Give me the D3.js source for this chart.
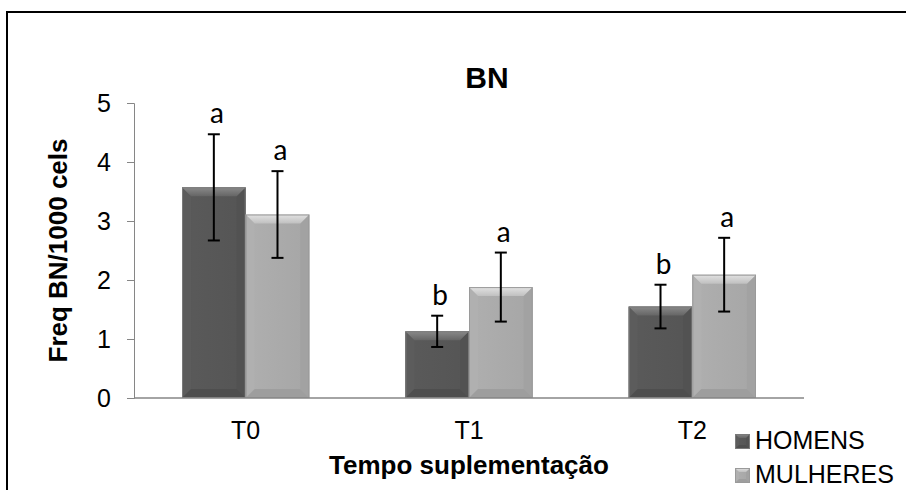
<!DOCTYPE html>
<html>
<head>
<meta charset="utf-8">
<script src="https://cdn.jsdelivr.net/npm/d3@7"></script>
<style>
  body { margin: 0; background: #fff; }
  svg { display: block; }
</style>
</head>
<body>
<div id="chart"></div>
<script>
// dados
const categories = ["T0", "T1", "T2"];
const series = ["HOMENS", "MULHERES"];
const homens = [3.57, 1.13, 1.55];
const homensErr = [0.90, 0.265, 0.37];
const homensLetters = ["a", "b", "b"];
const mulheres = [3.11, 1.88, 2.09];
const mulheresErr = [0.735, 0.585, 0.625];
const mulheresLetters = ["a", "a", "a"];
const yTicks = [0, 1, 2, 3, 4, 5];

const width = 906, height = 490;
const margin = { left: 134, right: 102, top: 103, bottom: 92 };

const svg = d3.select("#chart").append("svg")
  .attr("width", width)
  .attr("height", height);

// moldura
svg.append("rect")
  .attr("x", 7).attr("y", 12)
  .attr("width", 920).attr("height", 500)
  .attr("fill", "none")
  .attr("stroke", "#000")
  .attr("stroke-width", 2);

const x0 = d3.scaleBand()
  .domain(categories)
  .range([margin.left, width - margin.right])
  .paddingInner(0.43)
  .paddingOuter(0.215);

const x1 = d3.scaleBand()
  .domain(series)
  .range([0, x0.bandwidth()]);

const y = d3.scaleLinear()
  .domain([0, 5])
  .range([height - margin.bottom, margin.top]);

// estilos de cada série (face, topo, lados, base)
const styles = {
  HOMENS: { face: "#575757", top1: "#8a8a8a", top2: "#656565", left: "#5c5c5c", right: "#525252", bottom: "#4e4e4e", stroke: "#7a7a7a" },
  MULHERES: { face: "#a9a9a9", top1: "#e2e2e2", top2: "#c0c0c0", left: "#b0b0b0", right: "#a2a2a2", bottom: "#9e9e9e", stroke: "#9a9a9a" }
};

const defs = svg.append("defs");
series.forEach(s => {
  const g = defs.append("linearGradient")
    .attr("id", "top-" + s)
    .attr("x1", 0).attr("y1", 0).attr("x2", 0).attr("y2", 1);
  g.append("stop").attr("offset", "0%").attr("stop-color", styles[s].top1);
  g.append("stop").attr("offset", "100%").attr("stop-color", styles[s].top2);
  const f = defs.append("linearGradient")
    .attr("id", "face-" + s)
    .attr("x1", 0).attr("y1", 0).attr("x2", 1).attr("y2", 0);
  f.append("stop").attr("offset", "0%").attr("stop-color", d3.color(styles[s].face).brighter(0.1));
  f.append("stop").attr("offset", "100%").attr("stop-color", d3.color(styles[s].face).darker(0.05));
});

// desenha uma barra com efeito de bisel
function bevelBar(g, x, yTop, w, h, s, b) {
  const st = styles[s];
  const yB = yTop + h;
  g.append("rect")
    .attr("x", x).attr("y", yTop).attr("width", w).attr("height", h)
    .attr("fill", "url(#face-" + s + ")");
  const poly = (pts, fill) => g.append("polygon")
    .attr("points", pts.map(p => p.join(",")).join(" "))
    .attr("fill", fill);
  poly([[x, yTop], [x + b, yTop + b], [x + b, yB - b], [x, yB]], st.left);
  poly([[x + w, yTop], [x + w - b, yTop + b], [x + w - b, yB - b], [x + w, yB]], st.right);
  poly([[x, yB], [x + b, yB - b], [x + w - b, yB - b], [x + w, yB]], st.bottom);
  poly([[x, yTop], [x + w, yTop], [x + w - b, yTop + b], [x + b, yTop + b]], "url(#top-" + s + ")");
  g.append("rect")
    .attr("x", x + 0.5).attr("y", yTop + 0.5).attr("width", w - 1).attr("height", h - 1)
    .attr("fill", "none")
    .attr("stroke", st.stroke)
    .attr("stroke-width", 1);
}

const rows = [];
categories.forEach((c, i) => {
  rows.push({ cat: c, s: "HOMENS", v: homens[i], e: homensErr[i], l: homensLetters[i] });
  rows.push({ cat: c, s: "MULHERES", v: mulheres[i], e: mulheresErr[i], l: mulheresLetters[i] });
});

const barsG = svg.append("g");
rows.forEach(d => {
  const bx = x0(d.cat) + x1(d.s);
  bevelBar(barsG, bx, y(d.v), x1.bandwidth(), y(0) - y(d.v), d.s, 9);
});

// eixos
const yAxis = svg.append("g")
  .attr("transform", `translate(${margin.left},0)`)
  .call(d3.axisLeft(y).tickValues(yTicks).tickFormat(d3.format("d")).tickSize(7).tickPadding(16));
yAxis.select(".domain").attr("stroke", "#868686");
yAxis.selectAll(".tick line").attr("stroke", "#868686");
yAxis.selectAll("text")
  .attr("font-family", "Liberation Sans, Arial, sans-serif")
  .attr("font-size", 25)
  .attr("fill", "#000");

svg.append("line")
  .attr("x1", margin.left).attr("x2", width - margin.right)
  .attr("y1", y(0)).attr("y2", y(0))
  .attr("stroke", "#868686")
  .attr("stroke-width", 1.5);

svg.append("g")
  .selectAll("text")
  .data(categories)
  .join("text")
  .attr("x", d => x0(d) + x0.bandwidth() / 2)
  .attr("y", 439)
  .attr("text-anchor", "middle")
  .attr("font-family", "Liberation Sans, Arial, sans-serif")
  .attr("font-size", 25)
  .text(d => d);

// barras de erro
const errG = svg.append("g");
rows.forEach(d => {
  const cx = x0(d.cat) + x1(d.s) + x1.bandwidth() / 2;
  const hi = y(d.v + d.e), lo = y(d.v - d.e);
  errG.append("line").attr("x1", cx).attr("x2", cx).attr("y1", hi).attr("y2", lo);
  errG.append("line").attr("x1", cx - 6).attr("x2", cx + 6).attr("y1", hi).attr("y2", hi);
  errG.append("line").attr("x1", cx - 6).attr("x2", cx + 6).attr("y1", lo).attr("y2", lo);
  svg.append("text")
    .attr("x", cx + 3)
    .attr("y", hi - 11)
    .attr("text-anchor", "middle")
    .attr("font-family", "Lato, 'Open Sans', sans-serif")
    .attr("font-size", 28)
    .text(d.l);
});
errG.selectAll("line").attr("stroke", "#000").attr("stroke-width", 2);

// títulos
svg.append("text")
  .attr("x", 487).attr("y", 88)
  .attr("text-anchor", "middle")
  .attr("font-family", "Liberation Sans, Arial, sans-serif")
  .attr("font-weight", "bold")
  .attr("font-size", 30)
  .text("BN");

svg.append("text")
  .attr("x", (margin.left + width - margin.right) / 2)
  .attr("y", 474)
  .attr("text-anchor", "middle")
  .attr("font-family", "Liberation Sans, Arial, sans-serif")
  .attr("font-weight", "bold")
  .attr("font-size", 26)
  .text("Tempo suplementação");

svg.append("text")
  .attr("transform", `translate(67,${(y(0) + y(5)) / 2}) rotate(-90)`)
  .attr("text-anchor", "middle")
  .attr("font-family", "Liberation Sans, Arial, sans-serif")
  .attr("font-weight", "bold")
  .attr("font-size", 26)
  .text("Freq BN/1000 cels");

// legenda
const legend = svg.append("g");
series.forEach((s, i) => {
  const ly = 434 + i * 34;
  bevelBar(legend, 735, ly, 15, 15, s, 4);
  legend.append("text")
    .attr("x", 755)
    .attr("y", ly + 15)
    .attr("font-family", "Liberation Sans, Arial, sans-serif")
    .attr("font-size", 25)
    .text(s);
});
</script>
</body>
</html>
